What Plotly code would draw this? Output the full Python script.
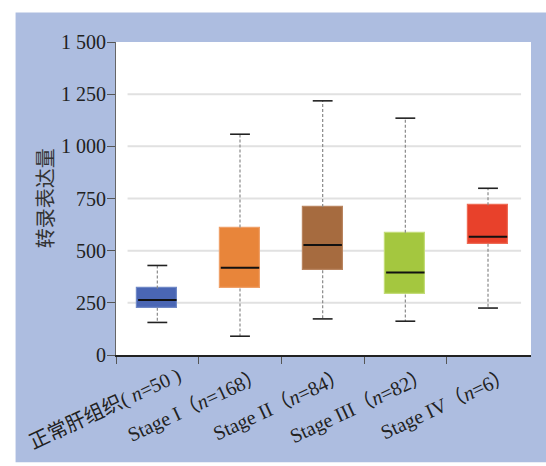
import plotly.graph_objects as go

# Transcript expression per group (box statistics)
groups = ["正常肝组织( <i>n</i>=50 )", "Stage I（<i>n</i>=168）", "Stage II（<i>n</i>=84）",
          "Stage III（<i>n</i>=82）", "Stage IV（<i>n</i>=6）"]
lower = [156, 90, 173, 162, 225]
q1 = [227, 319, 406, 290, 533]
median = [263, 418, 527, 395, 567]
q3 = [319, 611, 709, 586, 718]
upper = [429, 1058, 1218, 1135, 799]

fill_colors = ["#4a66b4", "#e8853a", "#a66b3f", "#a4c73f", "#e8412b"]
edge_colors = ["#6f88c6", "#efa068", "#b98560", "#c3dc78", "#ee6b55"]

y_ticks = [0, 250, 500, 750, 1000, 1250, 1500]
y_tick_text = ["0", "250", "500", "750", "1 000", "1 250", "1 500"]

FONT = "Liberation Serif, Noto Sans CJK SC, serif"
BOX_W = 0.485
CAP_HALF = 0.12
X_MAX = 4.52

x = list(range(len(groups)))
fig = go.Figure()

# whiskers (dashed)
for i in x:
    fig.add_trace(go.Scatter(x=[i, i, None, i, i], y=[q3[i], upper[i], None, q1[i], lower[i]],
                             mode="lines", line=dict(color="#8a8a8a", width=1.2, dash="3px,2px"),
                             hoverinfo="skip", showlegend=False))

# boxes from Q1 to Q3
fig.add_trace(go.Bar(x=x, y=[b - a for a, b in zip(q1, q3)], base=q1, width=BOX_W,
                     marker=dict(color=fill_colors, line=dict(color=edge_colors, width=1.2)),
                     showlegend=False))

# caps and medians
for i in x:
    fig.add_trace(go.Scatter(x=[i - CAP_HALF, i + CAP_HALF, None, i - CAP_HALF, i + CAP_HALF],
                             y=[upper[i], upper[i], None, lower[i], lower[i]],
                             mode="lines", line=dict(color="#222222", width=1.6),
                             hoverinfo="skip", showlegend=False))
    fig.add_trace(go.Scatter(x=[i - BOX_W / 2 + 0.01, i + BOX_W / 2 - 0.01], y=[median[i], median[i]],
                             mode="lines", line=dict(color="#111111", width=2),
                             hoverinfo="skip", showlegend=False))

# blue panel, white plotting area, light grid lines
shapes = [
    dict(type="rect", xref="paper", yref="paper", x0=-0.242, x1=1.04, y0=-0.343, y1=1.094,
         fillcolor="#adbde0", line=dict(width=0), layer="below"),
    dict(type="rect", xref="x", yref="y", x0=-0.5, x1=X_MAX, y0=0, y1=y_ticks[-1],
         fillcolor="white", line=dict(width=0), layer="below"),
]
for v in y_ticks[1:-1]:
    shapes.append(dict(type="line", xref="x", yref="y", x0=-0.36, x1=4.40, y0=v, y1=v,
                       line=dict(color="#e1e1e1", width=2), layer="below"))

annotations = [dict(x=-0.169, y=0.5, xref="paper", yref="paper", text="转录表达量",
                    showarrow=False, textangle=-90, xanchor="center", yanchor="middle",
                    font=dict(family=FONT, size=20, color="#333333"))]

fig.update_layout(
    width=546, height=466,
    margin=dict(l=116, r=15, t=42, b=109),
    paper_bgcolor="white", plot_bgcolor="white",
    shapes=shapes, annotations=annotations,
    xaxis=dict(range=[-0.5, X_MAX], tickmode="array", tickvals=x, ticktext=groups,
               ticks="", tickangle=-25, ticklabelshift=21, ticklabelstandoff=0,
               tickfont=dict(family=FONT, size=20, color="#222222"),
               minor=dict(tickmode="array", tickvals=[-0.5, 0.5, 1.5, 2.5, 3.5],
                          ticks="outside", ticklen=7, tickcolor="#555555"),
               showline=True, linecolor="#222222", linewidth=1.5, showgrid=False, zeroline=False),
    yaxis=dict(range=[0, 1500], tickmode="array", tickvals=y_ticks, ticktext=y_tick_text,
               ticks="outside", ticklen=8, tickcolor="#555555", showline=True,
               linecolor="#666666", linewidth=1, showgrid=False, zeroline=False,
               ticklabelstandoff=-3,
               tickfont=dict(family=FONT, size=20, color="#222222")),
    bargap=0,
)

fig.write_html("out.html")
